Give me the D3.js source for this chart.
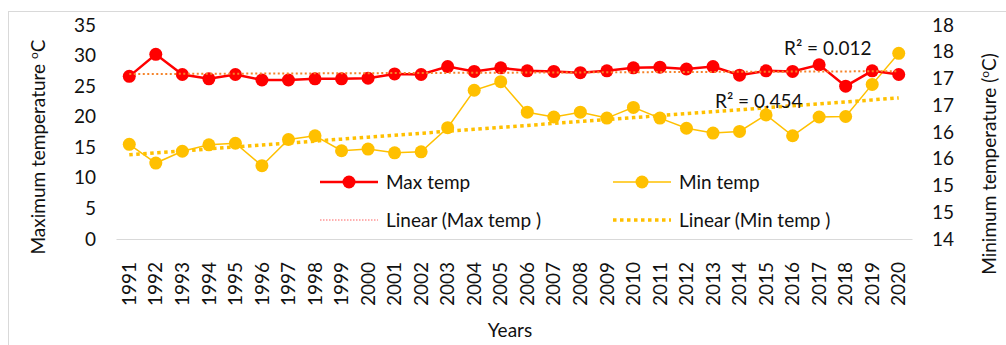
<!DOCTYPE html>
<html>
<head>
<meta charset="utf-8">
<script src="https://cdn.jsdelivr.net/npm/d3@7"></script>
<style>
  body { margin: 0; background: #fff; }
  text { font-family: Lato, "Open Sans", sans-serif; fill: #111; }
</style>
</head>
<body>
<div id="chart"></div>
<script>
// chart data
const years = d3.range(1991, 2021).map(String);
const maxTemp = [26.6, 30.2, 26.9, 26.2, 26.9, 26.0, 26.0, 26.2, 26.2, 26.3,
  27.0, 26.9, 28.2, 27.4, 28.0, 27.5, 27.4, 27.2, 27.5, 28.0,
  28.1, 27.8, 28.2, 26.8, 27.5, 27.4, 28.5, 25.0, 27.5, 26.9];
const minTemp = [15.77, 15.42, 15.64, 15.76, 15.79, 15.37, 15.86, 15.93, 15.65, 15.68,
  15.61, 15.63, 16.08, 16.78, 16.94, 16.37, 16.28, 16.37, 16.26, 16.46,
  16.26, 16.07, 15.98, 16.01, 16.32, 15.93, 16.28, 16.29, 16.89, 17.47];
const leftTicks = [0, 5, 10, 15, 20, 25, 30, 35];
const rightTicks = [14, 14.5, 15, 15.5, 16, 16.5, 17, 17.5, 18];
const r2Labels = ["R\u00b2 = 0.012", "R\u00b2 = 0.454"];

const width = 1006, height = 345;
const plotLeft = 116, plotRight = 912, plotTop = 25, plotBottom = 239;

const red = "#ff0000", gold = "#ffc000";

const svg = d3.select("#chart").append("svg")
  .attr("width", width)
  .attr("height", height);

// outer frame
svg.append("rect")
  .attr("x", 8.5).attr("y", 11.5)
  .attr("width", width).attr("height", height)
  .attr("fill", "none").attr("stroke", "#d9d9d9");

const x = d3.scaleBand().domain(years).range([plotLeft, plotRight]);
const yL = d3.scaleLinear().domain([0, 35]).range([plotBottom, plotTop]);
const yR = d3.scaleLinear().domain([14, 18]).range([plotBottom, plotTop]);
const cx = d => x(d) + x.bandwidth() / 2;

// axes
const gx = svg.append("g")
  .attr("transform", `translate(0,${plotBottom})`)
  .call(d3.axisBottom(x).tickSize(0).tickPadding(0));
gx.select(".domain").attr("stroke", "#d9d9d9");
gx.selectAll("text")
  .attr("font-size", 19)
  .attr("text-anchor", "end")
  .attr("transform", "rotate(-90)")
  .attr("x", -23).attr("y", 0).attr("dy", "0.35em");

const gl = svg.append("g")
  .attr("transform", `translate(${plotLeft - 20},0)`)
  .call(d3.axisLeft(yL).tickValues(leftTicks).tickSize(0).tickPadding(0));
gl.select(".domain").remove();
gl.selectAll("text").attr("font-size", 19);

const gr = svg.append("g")
  .attr("transform", `translate(${plotRight + 20},0)`)
  .call(d3.axisRight(yR).tickValues(rightTicks).tickFormat(d3.format(".0f")).tickSize(0).tickPadding(0));
gr.select(".domain").remove();
gr.selectAll("text").attr("font-size", 19);
svg.selectAll(".tick text").attr("fill", "#111");

// axis titles
const lt = svg.append("text")
  .attr("transform", "translate(45,147) rotate(-90)")
  .attr("text-anchor", "middle").attr("font-size", 19);
lt.append("tspan").text("Maximum temperature ");
lt.append("tspan").attr("font-size", 12).attr("dy", -7).text("o");
lt.append("tspan").attr("dy", 7).text("C");

const rt = svg.append("text")
  .attr("transform", "translate(996,164) rotate(-90)")
  .attr("text-anchor", "middle").attr("font-size", 19);
rt.append("tspan").text("Minimum temperature (");
rt.append("tspan").attr("font-size", 12).attr("dy", -7).text("o");
rt.append("tspan").attr("dy", 7).text("C)");

svg.append("text")
  .attr("x", 510).attr("y", 337)
  .attr("text-anchor", "middle").attr("font-size", 19)
  .text("Years");

// linear trend lines (least squares on the series)
function trend(vals) {
  const idx = vals.map((v, i) => i);
  const mx = d3.mean(idx), my = d3.mean(vals);
  const b = d3.sum(idx, i => (i - mx) * (vals[i] - my)) / d3.sum(idx, i => (i - mx) ** 2);
  return idx.map(i => my + b * (i - mx));
}
const maxTrend = trend(maxTemp);
const minTrend = trend(minTemp);

svg.append("path")
  .datum(minTrend)
  .attr("fill", "none").attr("stroke", gold)
  .attr("stroke-width", 3.5).attr("stroke-dasharray", "3.5,3.5")
  .attr("d", d3.line().x((d, i) => cx(years[i])).y(d => yR(d)));

// min temp series
svg.append("path")
  .datum(minTemp)
  .attr("fill", "none").attr("stroke", gold).attr("stroke-width", 1.5)
  .attr("d", d3.line().x((d, i) => cx(years[i])).y(d => yR(d)));
svg.selectAll(".minpt").data(minTemp).join("circle")
  .attr("class", "minpt")
  .attr("cx", (d, i) => cx(years[i])).attr("cy", d => yR(d))
  .attr("r", 6.5).attr("fill", gold);

// max temp series
svg.append("path")
  .datum(maxTemp)
  .attr("fill", "none").attr("stroke", red).attr("stroke-width", 2.5)
  .attr("d", d3.line().x((d, i) => cx(years[i])).y(d => yL(d)));
svg.selectAll(".maxpt").data(maxTemp).join("circle")
  .attr("class", "maxpt")
  .attr("cx", (d, i) => cx(years[i])).attr("cy", d => yL(d))
  .attr("r", 6.5).attr("fill", red);

svg.append("path")
  .datum(maxTrend)
  .attr("fill", "none").attr("stroke", "#f5832a")
  .attr("stroke-width", 2).attr("stroke-dasharray", "2,2.5")
  .attr("d", d3.line().x((d, i) => cx(years[i])).y(d => yL(d)));

// R² labels
svg.append("text").attr("x", 784).attr("y", 55).attr("font-size", 19).text(r2Labels[0]);
svg.append("text").attr("x", 715).attr("y", 108).attr("font-size", 19).text(r2Labels[1]);

// legend
const legend = [
  { label: "Max temp", x: 320, y: 182, color: red, w: 2.5, dash: null, dot: true },
  { label: "Min temp", x: 613, y: 182, color: gold, w: 1.5, dash: null, dot: true },
  { label: "Linear (Max temp )", x: 320, y: 220, color: "#ff6060", w: 1, dash: "1.5,1.5", dot: false },
  { label: "Linear (Min temp )", x: 613, y: 220, color: gold, w: 3.5, dash: "3.5,3.5", dot: false }
];
const lg = svg.selectAll(".lg").data(legend).join("g").attr("class", "lg")
  .attr("transform", d => `translate(${d.x},${d.y})`);
lg.append("line")
  .attr("x1", 0).attr("x2", 58)
  .attr("stroke", d => d.color).attr("stroke-width", d => d.w)
  .attr("stroke-dasharray", d => d.dash);
lg.filter(d => d.dot).append("circle")
  .attr("cx", 29).attr("r", 6.5).attr("fill", d => d.color);
lg.append("text")
  .attr("x", 66).attr("dy", "0.35em").attr("font-size", 19)
  .text(d => d.label);
</script>
</body>
</html>
